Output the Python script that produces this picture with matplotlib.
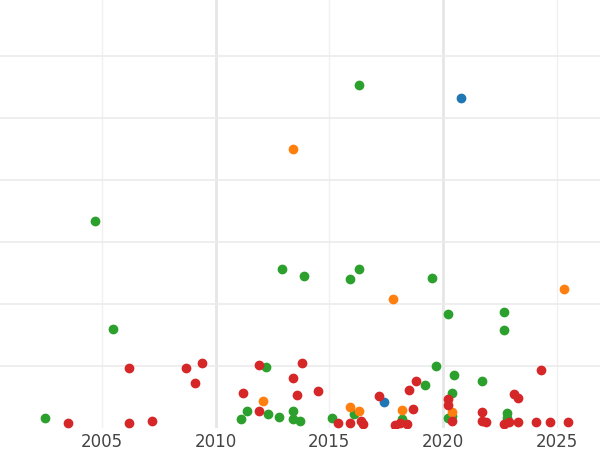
import matplotlib
matplotlib.use("Agg")
from matplotlib import pyplot as plt

green_x = [2002.5, 2004.7, 2005.5, 2011.1, 2011.4, 2012.2, 2012.3, 2012.8, 2012.9, 2013.4, 2013.4, 2013.7,
           2013.9, 2015.1, 2015.9, 2016.1, 2016.3, 2016.3, 2018.2, 2019.2, 2019.5, 2019.7, 2020.2, 2020.2,
           2020.4, 2020.5, 2020.4, 2021.7, 2022.7, 2022.7, 2022.8, 2022.8]
green_y = [1.6, 33.4, 15.9, 1.5, 2.7, 9.8, 2.3, 1.8, 25.6, 2.7, 1.5, 1.1,
           24.5, 1.6, 24.0, 2.3, 55.3, 25.6, 1.5, 6.9, 24.2, 10.0, 18.4, 1.6,
           5.6, 8.5, 1.9, 7.6, 18.7, 15.8, 2.4, 1.6]

blue_x = [2020.8, 2017.4]
blue_y = [53.2, 4.2]

orange_x = [2013.4, 2012.1, 2015.9, 2016.3, 2017.8, 2018.2, 2020.4, 2025.3]
orange_y = [45.0, 4.4, 3.4, 2.7, 20.8, 2.9, 2.6, 22.4]

red_x = [2003.5, 2006.2, 2006.2, 2007.2, 2008.7, 2009.1, 2009.4, 2011.2, 2011.9, 2011.9, 2013.4, 2013.6,
         2013.8, 2014.5, 2015.4, 2015.9, 2016.4, 2016.5, 2017.2, 2017.9, 2018.1, 2018.4, 2018.5, 2018.7,
         2018.8, 2020.2, 2020.2, 2020.4, 2021.7, 2021.7, 2021.9, 2022.7, 2022.9, 2023.1, 2023.3, 2023.3,
         2024.1, 2024.3, 2024.7, 2025.5]
red_y = [0.8, 9.7, 0.8, 1.1, 9.7, 7.3, 10.5, 5.6, 10.2, 2.7, 8.1, 5.3,
         10.5, 6.0, 0.8, 0.8, 1.1, 0.6, 5.2, 0.5, 0.8, 0.6, 6.1, 3.1,
         7.6, 4.7, 3.7, 1.1, 2.6, 1.1, 0.9, 0.6, 1.0, 5.5, 0.9, 4.8,
         1.0, 9.3, 0.9, 1.0]

fig = plt.figure(figsize=(6, 4.5), dpi=100)
ax = fig.add_axes([0, 0.049, 1, 0.951])

ax.scatter(green_x, green_y, s=36, color="#2ca02c", zorder=3)
ax.scatter(blue_x, blue_y, s=36, color="#1f77b4", zorder=3)
ax.scatter(orange_x, orange_y, s=36, color="#ff7f0e", zorder=3)
ax.scatter(red_x, red_y, s=36, color="#d62728", zorder=3)

ax.set_xlim(2000.52, 2026.9)
ax.set_ylim(0, 69)
ax.set_xticks([2005, 2010, 2015, 2020, 2025])
ax.set_yticks([10, 20, 30, 40, 50, 60])
ax.set_yticklabels([])
for yr in [2005, 2015, 2025]:
    ax.axvline(yr, color="#f0f0f0", linewidth=1, zorder=0)
for yr in [2010, 2020]:
    ax.axvline(yr, color="#e6e6e6", linewidth=2, zorder=0)
for v in [10, 20, 30, 40, 50, 60]:
    ax.axhline(v, color="#ebebeb", linewidth=1.2, zorder=0)
ax.tick_params(axis="both", length=0, labelsize=12, colors="#444444")
for s in ax.spines.values():
    s.set_visible(False)

plt.savefig("out.png", dpi=100)
